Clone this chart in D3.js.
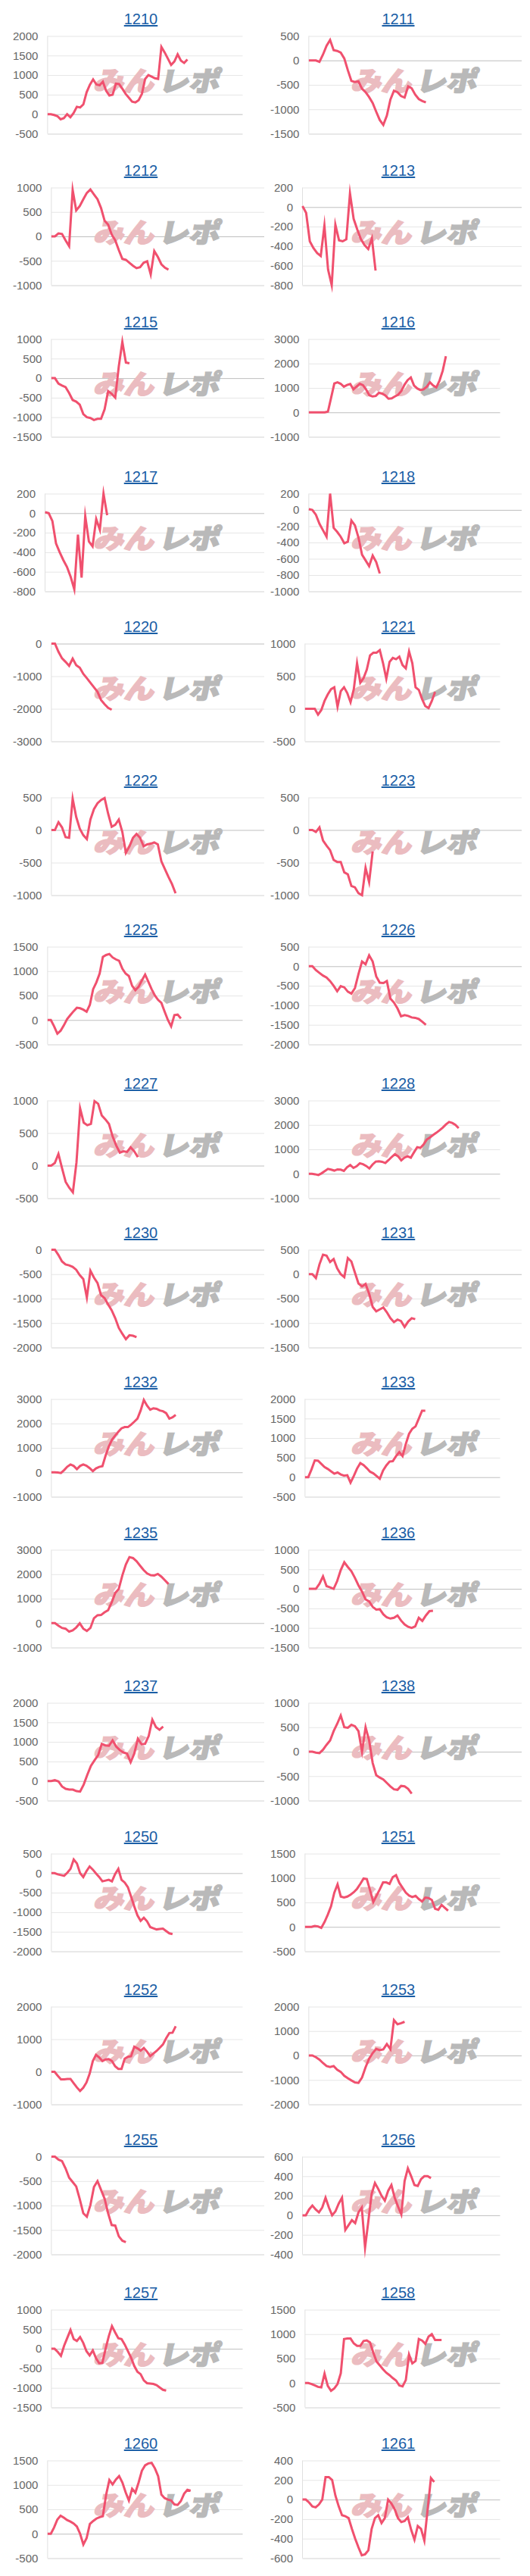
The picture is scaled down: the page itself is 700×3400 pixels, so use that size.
<!DOCTYPE html>
<html><head><meta charset="utf-8">
<script src="https://cdn.jsdelivr.net/npm/d3@7"></script>
<style>
body{margin:0;background:#fff;}
svg{display:block;}
</style>
</head><body>
<svg id="chart" width="700" height="3400"></svg>
<script>
// ---------- data ----------
const machines = ["1210","1211","1212","1213","1215","1216","1217","1218","1220","1221","1222","1223","1225","1226","1227","1228","1230","1231","1232","1233","1235","1236","1237","1238","1250","1251","1252","1253","1255","1256","1257","1258","1260","1261"];

const v1210 = [0,0,-20,-50,-130,-100,0,-80,30,190,170,250,560,750,890,760,740,830,600,480,500,780,770,650,520,420,320,300,360,520,900,1000,960,920,900,1720,1580,1420,1260,1350,1530,1370,1310,1400];
const v1211 = [0,0,0,-30,120,300,420,210,195,160,40,-200,-420,-440,-430,-580,-650,-750,-870,-1050,-1220,-1320,-1130,-800,-620,-650,-730,-760,-530,-570,-700,-790,-830,-860];
const v1212 = [0,0,60,50,-80,-200,950,530,620,760,890,960,860,760,580,320,240,40,-80,-280,-460,-480,-540,-600,-650,-630,-540,-510,-780,-300,-420,-570,-640,-680];
const v1213 = [10,-60,-350,-420,-470,-500,-190,-640,-800,-180,-340,-350,-330,140,-120,-230,-330,-390,-430,-320,-650];
const v1215 = [0,0,-140,-190,-230,-380,-560,-600,-680,-920,-1000,-1020,-1070,-1040,-1040,-800,-330,-400,-500,300,930,400,380];
const v1216 = [0,0,0,0,0,0,30,600,1180,1230,1170,1050,1120,1160,940,1060,1170,1110,930,700,650,670,800,770,690,560,570,650,720,870,1130,1320,1430,1100,980,910,940,1050,1230,1100,1020,1300,1700,2300];
const v1217 = [10,0,-80,-310,-400,-480,-550,-650,-780,-220,-660,-30,-290,-340,-60,-170,200,-20];
const v1218 = [10,0,-60,-170,-250,-330,200,-220,-270,-330,-410,-390,-130,-190,-340,-550,-620,-690,-560,-640,-780];
const v1220 = [0,0,-250,-450,-560,-680,-460,-660,-740,-930,-1060,-1200,-1340,-1480,-1730,-1860,-1970,-2030];
const v1221 = [0,0,0,0,-90,-20,120,220,300,330,30,270,330,240,100,300,700,400,470,600,820,860,860,900,700,460,720,780,760,800,670,620,880,700,330,290,150,40,10,120,260];
const v1222 = [0,0,120,40,-110,-120,480,200,20,-80,-140,160,320,410,460,490,250,50,80,160,-30,-350,-250,-120,-60,-120,-250,-220,-210,-190,-220,-480,-600,-720,-830,-970];
const v1223 = [0,0,-30,40,-160,-240,-310,-460,-490,-490,-650,-680,-860,-880,-970,-1000,-580,-800,-330];
const v1225 = [0,0,-130,-280,-220,-110,20,100,180,250,240,210,170,310,630,770,950,1290,1330,1350,1280,1240,1210,1050,950,900,700,610,680,810,930,780,630,500,410,350,170,0,-130,100,110,30];
const v1226 = [0,0,-100,-170,-240,-290,-380,-500,-640,-510,-540,-650,-700,-560,-200,120,50,280,120,-260,-420,-430,-380,-830,-930,-1080,-1280,-1250,-1270,-1310,-1320,-1350,-1420,-1500];
const v1227 = [0,0,40,180,-40,-250,-340,-410,50,880,660,620,640,990,950,770,710,640,450,310,200,220,210,280,220,130];
const v1228 = [0,0,-20,-50,20,110,200,170,130,180,170,120,270,360,240,310,430,390,320,220,380,500,510,490,440,560,690,800,720,550,660,720,660,880,1090,1060,1200,1400,1490,1590,1680,1780,1890,2020,2120,2080,2000,1870];
const v1230 = [0,0,-110,-240,-300,-320,-350,-410,-520,-600,-980,-430,-570,-680,-930,-990,-1120,-1240,-1400,-1600,-1720,-1830,-1750,-1760,-1790];
const v1231 = [0,0,-80,200,400,380,250,310,120,0,-60,330,260,30,-190,-250,-200,-400,-670,-760,-720,-680,-780,-900,-980,-930,-960,-1080,-970,-900,-920];
const v1232 = [0,0,-10,-30,90,230,320,260,130,260,320,270,170,50,160,220,250,680,1050,1330,1500,1660,1800,1850,1850,1950,2070,2200,2530,2960,2730,2560,2620,2600,2530,2500,2420,2200,2250,2350];
const v1233 = [0,0,200,430,420,340,260,210,150,90,120,70,40,50,-140,30,220,360,310,230,140,100,30,-40,170,300,400,410,540,640,540,850,1110,1240,1300,1500,1700,1700];
const v1235 = [0,0,-110,-200,-230,-350,-300,-180,-10,-230,-320,-200,200,320,330,440,530,850,1230,1400,1950,2400,2700,2660,2530,2350,2170,2030,1960,1950,2010,1900,1750,1600];
const v1236 = [0,0,0,130,320,70,40,0,200,480,680,560,450,280,90,-70,-270,-320,-460,-530,-520,-650,-730,-760,-740,-680,-810,-910,-970,-1000,-960,-740,-820,-680,-570,-560];
const v1237 = [0,0,20,-10,-140,-200,-220,-220,-260,-270,-90,160,390,530,660,950,910,900,1040,880,790,730,700,480,700,1080,940,950,1150,1570,1380,1310,1390];
const v1238 = [0,0,-20,-30,40,140,230,420,570,740,500,490,550,520,420,0,500,230,-230,-480,-530,-570,-640,-710,-770,-780,-700,-710,-760,-860];
const v1250 = [0,0,-30,-50,-70,10,110,350,250,0,-100,50,170,90,-10,-100,-210,-190,-170,-210,-20,110,-170,-240,-360,-600,-850,-1080,-1220,-1140,-1230,-1380,-1410,-1440,-1430,-1420,-1480,-1540,-1560];
const v1251 = [0,0,0,20,10,-20,100,250,420,700,870,620,600,620,660,710,780,880,990,980,750,510,640,770,910,910,880,1020,1060,900,800,700,640,610,635,570,520,600,590,550,370,350,450,390,330];
const v1252 = [0,0,-120,-230,-230,-220,-220,-350,-480,-590,-490,-330,-60,330,520,440,330,380,390,330,170,90,90,400,460,480,770,720,650,730,620,480,560,640,740,840,1030,1190,1200,1400];
const v1253 = [0,0,-70,-170,-310,-430,-470,-430,-580,-670,-830,-930,-1020,-1100,-1120,-900,-480,-130,100,270,220,250,470,260,1450,1280,1320,1380];
const v1255 = [0,0,-60,-90,-240,-430,-520,-610,-870,-1160,-1230,-990,-620,-500,-680,-860,-1160,-1400,-1410,-1630,-1720,-1750];
const v1256 = [0,0,60,100,60,30,80,180,80,0,40,120,180,-150,-100,-50,-80,30,80,-330,-60,220,330,270,200,150,250,310,180,90,10,350,480,400,310,300,370,400,400,380];
const v1257 = [0,0,-80,-180,80,280,480,250,200,300,150,-60,-170,-40,-240,-370,-360,0,320,580,420,270,250,110,-60,-230,-440,-590,-650,-810,-880,-890,-900,-930,-990,-1050,-1070];
const v1258 = [0,0,-20,-50,-80,-90,190,-60,-160,-110,-20,200,900,910,910,810,760,760,860,870,830,620,440,360,280,210,160,100,50,-50,-70,60,580,400,450,900,870,800,950,1000,880,880,880];
const v1260 = [0,0,130,290,370,330,280,250,210,150,0,-220,-90,200,260,310,340,360,800,1100,1010,1110,1180,1050,850,680,920,840,1050,1290,1400,1440,1450,1340,1180,800,730,700,680,600,590,670,820,900,880];
const v1261 = [0,0,-30,-70,-80,-50,0,230,230,200,40,-70,-160,-170,-190,-300,-400,-490,-570,-560,-520,-300,-190,-160,-240,-190,0,-40,-100,-190,-230,-220,-180,-310,-410,-270,-300,-420,-100,220,180];

// y-axis tick labels of each chart
const t1210 = [-500,0,500,1000,1500,2000];
const t1211 = [-1500,-1000,-500,0,500];
const t1212 = [-1000,-500,0,500,1000];
const t1213 = [-800,-600,-400,-200,0,200];
const t1215 = [-1500,-1000,-500,0,500,1000];
const t1216 = [-1000,0,1000,2000,3000];
const t1217 = [-800,-600,-400,-200,0,200];
const t1218 = [-1000,-800,-600,-400,-200,0,200];
const t1220 = [-3000,-2000,-1000,0];
const t1221 = [-500,0,500,1000];
const t1222 = [-1000,-500,0,500];
const t1223 = [-1000,-500,0,500];
const t1225 = [-500,0,500,1000,1500];
const t1226 = [-2000,-1500,-1000,-500,0,500];
const t1227 = [-500,0,500,1000];
const t1228 = [-1000,0,1000,2000,3000];
const t1230 = [-2000,-1500,-1000,-500,0];
const t1231 = [-1500,-1000,-500,0,500];
const t1232 = [-1000,0,1000,2000,3000];
const t1233 = [-500,0,500,1000,1500,2000];
const t1235 = [-1000,0,1000,2000,3000];
const t1236 = [-1500,-1000,-500,0,500,1000];
const t1237 = [-500,0,500,1000,1500,2000];
const t1238 = [-1000,-500,0,500,1000];
const t1250 = [-2000,-1500,-1000,-500,0,500];
const t1251 = [-500,0,500,1000,1500];
const t1252 = [-1000,0,1000,2000];
const t1253 = [-2000,-1000,0,1000,2000];
const t1255 = [-2000,-1500,-1000,-500,0];
const t1256 = [-400,-200,0,200,400,600];
const t1257 = [-1500,-1000,-500,0,500,1000];
const t1258 = [-500,0,500,1000,1500];
const t1260 = [-500,0,500,1000,1500];
const t1261 = [-600,-400,-200,0,200,400];

const seriesList = [v1210,v1211,v1212,v1213,v1215,v1216,v1217,v1218,v1220,v1221,v1222,v1223,v1225,v1226,v1227,v1228,v1230,v1231,v1232,v1233,v1235,v1236,v1237,v1238,v1250,v1251,v1252,v1253,v1255,v1256,v1257,v1258,v1260,v1261];
const tickList = [t1210,t1211,t1212,t1213,t1215,t1216,t1217,t1218,t1220,t1221,t1222,t1223,t1225,t1226,t1227,t1228,t1230,t1231,t1232,t1233,t1235,t1236,t1237,t1238,t1250,t1251,t1252,t1253,t1255,t1256,t1257,t1258,t1260,t1261];
const NCAT = 61; // categories on the x axis

// ---------- layout ----------
const wideCanvas = [0,1,1,1,1,0,1,1,1,0,1,1,0,1,1,0,1,1,0,0,1,1,1,1,0,0,0,1,1,0,0,0,0,0];
const rowTitleY = [25,225,425,629,827,1030,1227,1430,1627,1824,2023,2225,2424,2626,2824,3026,3225];

const svg = d3.select("#chart");
const FONT = '"Liberation Sans", Arial, Helvetica, sans-serif';
const ctx = document.createElement("canvas").getContext("2d");
ctx.font = "15px " + FONT;

machines.forEach((name, k) => {
  const row = Math.floor(k / 2), col = k % 2;
  const colLeft = col ? 356 : 16;
  const colCenter = col ? 526 : 186;
  const ty = rowTitleY[row];
  const ticks = tickList[k];
  const data = seriesList[k];

  const maxW = d3.max(ticks, t => ctx.measureText(String(t)).width);
  const x0 = colLeft + maxW + 13.5;
  const x1 = colLeft + (wideCanvas[k] ? 333 : 304.5);
  const yTop = ty + 22.5, yBot = ty + 151.5;

  const x = d3.scaleLinear().domain([0, NCAT - 1]).range([x0, x1]);
  const y = d3.scaleLinear().domain(d3.extent(ticks)).range([yBot, yTop]);

  const g = svg.append("g");

  // title (link style)
  g.append("text")
    .attr("x", colCenter).attr("y", ty + 7)
    .attr("text-anchor", "middle")
    .style("font-family", FONT).style("font-size", "20px")
    .style("text-decoration", "underline")
    .attr("fill", "#1a5ea6")
    .text(name);

  // y axis with gridlines
  const axis = d3.axisLeft(y).tickValues(ticks).tickSize(-(x1 - x0)).tickPadding(12.5).tickFormat(d => String(d));
  const ag = g.append("g").attr("transform", `translate(${x0},0)`).call(axis);
  ag.select(".domain").remove();
  ag.selectAll(".tick line")
    .attr("stroke", d => d === 0 ? "#bfbfbf" : (d === ticks[0] ? "#d2d2d2" : "#e6e6e6"))
    .attr("stroke-width", 1);
  ag.selectAll(".tick text")
    .style("font-family", FONT).style("font-size", "15px")
    .attr("fill", "#666");

  // left axis line
  g.append("line")
    .attr("x1", x0).attr("x2", x0).attr("y1", yTop).attr("y2", yBot)
    .attr("stroke", "#e0e0e0").attr("stroke-width", 1);

  // watermark
  const wm = g.append("g").attr("transform", `translate(${colLeft + 107},${ty + 95}) skewX(-12) scale(1,1.08)`);
  wm.append("text").attr("x", 0).attr("y", 0)
    .attr("textLength", 80).attr("lengthAdjust", "spacingAndGlyphs")
    .style("font-family", '"Noto Sans CJK JP", sans-serif').style("font-weight", 900).style("font-size", "33px")
    .attr("fill", "#ebbcc0").attr("stroke", "#ebbcc0").attr("stroke-width", 1.6).text("みん");
  wm.append("text").attr("x", 86).attr("y", 0)
    .attr("textLength", 80).attr("lengthAdjust", "spacingAndGlyphs")
    .style("font-family", '"Noto Sans CJK JP", sans-serif').style("font-weight", 900).style("font-size", "33px")
    .attr("fill", "#b9b9b9").attr("stroke", "#b9b9b9").attr("stroke-width", 1.6).text("レポ");

  // line
  const line = d3.line().x((d, i) => x(i)).y(d => y(d));
  g.append("path").datum(data)
    .attr("d", line)
    .attr("fill", "none")
    .attr("stroke", "#f0506e")
    .attr("stroke-width", 3)
    .attr("stroke-linejoin", "miter")
    .attr("stroke-miterlimit", 10);
});
</script>
</body></html>
